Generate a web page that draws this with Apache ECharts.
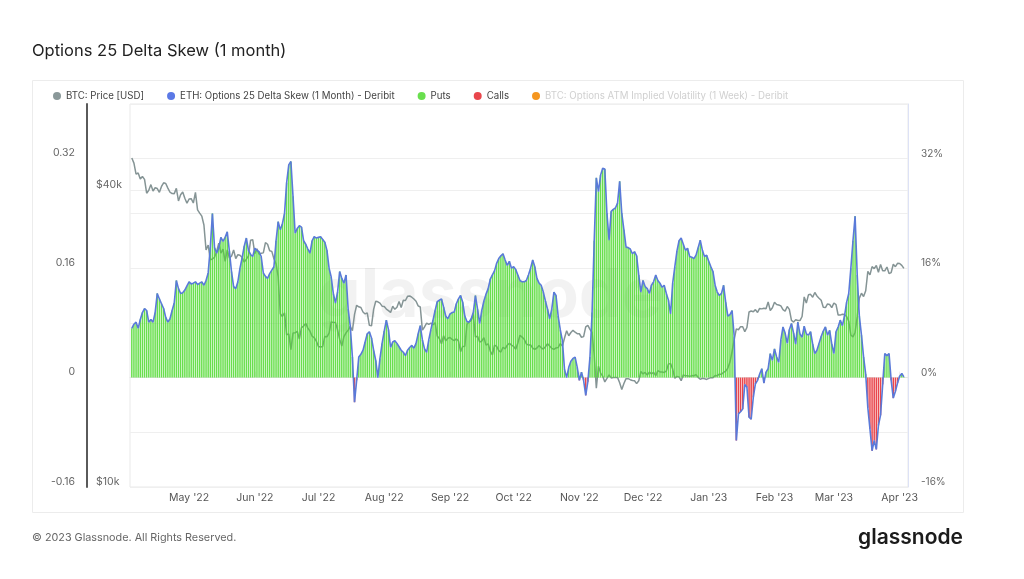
<!DOCTYPE html>
<html><head><meta charset="utf-8">
<script src="https://cdn.jsdelivr.net/npm/echarts@6/dist/echarts.min.js"></script>
<style>html,body{margin:0;padding:0;background:#fff;}#chart{width:1024px;height:579px;}</style>
</head><body><div id="chart"></div>
<script>
// ---- data ----
const startDate = '2022-04-04'; // first daily observation
const skew = [
0.072,0.078,0.081,0.072,0.085,0.095,0.101,0.098,0.081,0.085,
0.081,0.095,0.123,0.115,0.108,0.101,0.088,0.081,0.086,0.098,
0.109,0.142,0.130,0.123,0.124,0.128,0.134,0.140,0.137,0.138,
0.140,0.136,0.138,0.140,0.135,0.142,0.153,0.190,0.240,0.190,
0.182,0.190,0.205,0.199,0.205,0.213,0.185,0.155,0.133,0.130,
0.140,0.160,0.175,0.192,0.204,0.186,0.180,0.177,0.189,0.186,
0.184,0.177,0.153,0.148,0.145,0.152,0.157,0.162,0.200,0.228,
0.216,0.225,0.240,0.285,0.311,0.316,0.265,0.211,0.218,0.222,
0.220,0.200,0.195,0.188,0.182,0.200,0.206,0.204,0.205,0.206,
0.202,0.198,0.186,0.160,0.147,0.123,0.109,0.125,0.155,0.145,
0.138,0.150,0.100,0.075,0.030,-0.036,-0.004,0.030,0.034,0.040,
0.052,0.064,0.067,0.058,0.040,0.025,0.000,0.028,0.050,0.068,
0.084,0.070,0.044,0.052,0.054,0.050,0.045,0.040,0.037,0.032,
0.040,0.044,0.047,0.043,0.050,0.064,0.076,0.055,0.042,0.037,
0.055,0.070,0.084,0.098,0.111,0.113,0.115,0.103,0.090,0.086,
0.093,0.095,0.096,0.108,0.115,0.120,0.110,0.090,0.082,0.081,
0.086,0.095,0.120,0.100,0.079,0.098,0.112,0.122,0.130,0.144,
0.150,0.156,0.167,0.174,0.178,0.181,0.172,0.164,0.170,0.160,
0.162,0.158,0.150,0.142,0.140,0.140,0.142,0.150,0.160,0.172,
0.162,0.145,0.138,0.135,0.125,0.112,0.100,0.086,0.100,0.125,
0.120,0.090,0.070,0.054,0.012,0.000,0.015,0.024,0.028,0.030,
0.015,-0.004,0.008,-0.004,-0.026,-0.006,0.030,0.095,0.200,0.292,
0.272,0.296,0.306,0.305,0.240,0.201,0.243,0.246,0.248,0.255,
0.287,0.240,0.216,0.191,0.190,0.188,0.181,0.184,0.178,0.150,
0.125,0.142,0.133,0.130,0.123,0.135,0.140,0.150,0.142,0.138,
0.132,0.135,0.123,0.113,0.093,0.138,0.162,0.185,0.200,0.204,
0.195,0.186,0.189,0.177,0.176,0.174,0.179,0.190,0.201,0.186,
0.177,0.179,0.170,0.162,0.155,0.135,0.125,0.120,0.123,0.135,
0.110,0.090,0.092,0.098,0.060,-0.092,-0.053,-0.050,-0.046,-0.010,
-0.014,-0.058,-0.061,-0.029,-0.009,-0.004,0.005,0.013,-0.008,0.008,
0.013,0.035,0.025,0.042,0.030,0.022,0.055,0.074,0.065,0.050,
0.070,0.079,0.065,0.049,0.081,0.064,0.059,0.075,0.064,0.062,
0.067,0.049,0.035,0.040,0.050,0.060,0.068,0.074,0.062,0.069,
0.049,0.035,0.067,0.074,0.084,0.076,0.090,0.110,0.123,0.160,
0.200,0.236,0.150,0.090,0.062,0.030,0.005,-0.044,-0.075,-0.107,
-0.092,-0.105,-0.070,-0.055,-0.010,0.035,0.032,0.035,-0.004,-0.030,
-0.020,-0.008,0.002,0.006,0.001
];
const btcPrice = [
46600,45500,43200,43450,42250,42750,42160,39530,40070,41150,39940,40550,40400,39700,40800,41500,41370,40480,39710,39470,39450,40430,38120,39240,39740,38600,37710,
38470,38530,37750,39690,36550,36010,35500,34060,30300,31020,28940,29050,29290,30100,31300,29860,30420,28720,30310,29200,29430,30320,29100,29650,29560,29270,28630,29030,29470,31730,31800,
29800,30470,29700,29860,29900,31370,31130,30200,30110,29080,28420,26760,22490,22210,22580,20380,20470,19020,20550,20570,20720,19990,21080,21230,21500,21030,20730,20250,20100,19780,
19300,19250,19300,20230,20190,20550,21640,21600,21600,20860,19970,19330,20210,20570,20830,21190,20780,22430,23400,23230,23160,22680,22470,22580,21310,21250,22950,23850,23780,23640,23300,
23270,22990,22820,22630,23290,22960,23180,23810,23160,23950,23930,24400,24440,24300,24100,23850,23340,23210,20830,21140,21520,21400,21530,21370,21570,20260,20040,19550,20290,19810,20050,
20130,19950,19830,20000,19800,18840,19290,19320,21380,21650,21780,22400,20180,20240,19700,19800,20110,19420,19540,18880,18550,19410,19300,18930,18800,19230,19080,19410,19590,19420,
19310,19040,19620,20340,20160,19960,19530,19420,19450,19140,19050,19160,19380,19180,19070,19270,19550,19330,19130,19040,19170,19200,19570,19330,20080,20770,20290,20600,20810,20630,20490,
20480,20150,20210,21150,21300,20900,20600,18540,15880,17590,17040,16800,16350,16620,16900,16660,16690,16700,16700,16280,15780,16230,16600,16600,16520,16460,16440,16220,16440,17170,
16970,17090,16890,17110,16970,17090,16840,17230,17130,17130,17090,17200,17780,17810,17360,16630,16780,16740,16440,16900,16820,16830,16780,16840,16830,16920,16700,16550,16630,16600,16540,
16620,16680,16680,16850,16830,16950,16950,17090,17200,17440,17940,18850,19930,20950,20870,21170,21160,20690,21090,22680,22780,22710,22930,22630,23060,23010,23080,23030,23770,22840,23130,
23730,23490,23430,23330,22930,22760,23260,22960,21800,21630,21860,21790,21780,22200,24330,23640,24570,24630,24300,24840,24440,24190,23950,23190,23150,23550,23490,23150,
23650,23470,22360,22350,22430,22410,22200,21720,20360,20190,20630,22160,24200,24750,24380,25050,27420,26970,28040,27770,28180,27310,28330,27490,27490,27990,27140,27270,28350,28030,28480,
28450,28200,27800
];
const ivValues = []; // series hidden in the reference
const skewTicks = [-0.16, 0, 0.16, 0.32];
const priceTicks = [10000, 40000];
const monthNames = ['Jan','Feb','Mar','Apr','May','Jun','Jul','Aug','Sep','Oct','Nov','Dec'];

// ---- build ----
const DAY = 86400000;
const t0 = Date.parse(startDate + 'T00:00:00Z');
const dates = skew.map((_, i) => t0 + i * DAY);
const skewData = skew.map((v, i) => [dates[i], v]);
const putsData = skew.map((v, i) => [dates[i], v > 0 ? v : null]);
const callsData = skew.map((v, i) => [dates[i], v < 0 ? v : null]);
const priceData = btcPrice.map((v, i) => [dates[i], v]);
const isTick = v => skewTicks.some(t => Math.abs(t - v) < 1e-6);

const FONT = 'Inter, "Noto Sans", sans-serif';
const chart = echarts.init(document.getElementById('chart'), null, {renderer: 'canvas'});
chart.setOption({
  animation: false,
  backgroundColor: '#fff',
  textStyle: {fontFamily: FONT},
  title: {
    text: 'Options 25 Delta Skew (1 month)', left: 27, top: 38,
    textStyle: {fontSize: 16.5, fontWeight: 'normal', color: '#222', fontFamily: FONT}
  },
  legend: {
    left: 48, top: 86, icon: 'circle', itemWidth: 8, itemHeight: 8, itemGap: 23,
    textStyle: {fontSize: 9.7, color: '#444', fontFamily: FONT},
    data: [
      'BTC: Price [USD]',
      'ETH: Options 25 Delta Skew (1 Month) - Deribit',
      'Puts', 'Calls',
      {name: 'BTC: Options ATM Implied Volatility (1 Week) - Deribit', textStyle: {color: '#d0d0d0'}}
    ]
  },
  grid: {left: 130, right: 116, top: 104, bottom: 92, show: true, borderColor: '#e9e9e9', borderWidth: 1, backgroundColor: 'transparent'},
  xAxis: {
    type: 'time',
    min: Date.UTC(2022, 3, 3, 12), max: Date.UTC(2023, 3, 4, 14),
    splitNumber: 12, maxInterval: 31 * DAY,
    axisLine: {lineStyle: {color: '#e6e6e6'}},
    axisTick: {show: true, inside: true, length: 6, lineStyle: {color: '#eeeeee'}},
    splitLine: {show: false},
    axisLabel: {
      margin: 5, color: '#555', fontSize: 10.5, fontFamily: FONT, hideOverlap: false,
      formatter: v => { const d = new Date(v); return monthNames[d.getUTCMonth()] + " '" + String(d.getUTCFullYear()).slice(2); }
    }
  },
  yAxis: [
    {
      type: 'value', position: 'left', min: -0.16, max: 0.4, interval: 0.08,
      axisLine: {show: false}, axisTick: {show: false},
      splitLine: {show: true, lineStyle: {color: '#efefef'}},
      axisLabel: {margin: 55, color: '#666', fontSize: 10.5, fontFamily: FONT, verticalAlign: 'bottom',
        formatter: v => isTick(v) ? String(Math.round(v * 100) / 100) : ''}
    },
    {
      type: 'log', logBase: 10, position: 'left', offset: 43, min: 10000, max: 60000,
      axisLine: {show: true, lineStyle: {color: '#5a5a5a', width: 2}},
      axisTick: {show: false, customValues: priceTicks},
      splitLine: {show: true, lineStyle: {color: '#efefef'}},
      axisLabel: {inside: true, margin: 9, customValues: priceTicks, color: '#666', fontSize: 10.5, fontFamily: FONT, verticalAlign: 'bottom',
        formatter: v => '$' + Math.round(v / 1000) + 'k'}
    },
    {
      type: 'value', position: 'right', min: -0.16, max: 0.4, interval: 0.08,
      axisLine: {show: true, lineStyle: {color: '#dde2f6'}}, axisTick: {show: false},
      splitLine: {show: false},
      axisLabel: {margin: 13, color: '#666', fontSize: 10, fontFamily: FONT, verticalAlign: 'bottom',
        formatter: v => isTick(v) ? Math.round(v * 100) + '%' : ''}
    }
  ],
  series: [
    {
      name: 'BTC: Price [USD]', type: 'line', yAxisIndex: 1, data: priceData, showSymbol: false, symbol: 'none',
      color: '#8a9899', lineStyle: {width: 1.5, color: '#859495'}, z: 2
    },
    {
      name: 'Puts', type: 'bar', yAxisIndex: 0, data: putsData, barWidth: 1.5, barGap: '-100%',
      color: '#2bd125', itemStyle: {color: '#4fd92f', opacity: 0.85}, z: 3
    },
    {
      name: 'Calls', type: 'bar', yAxisIndex: 0, data: callsData, barWidth: 1.5, barGap: '-100%',
      color: '#f01010', itemStyle: {color: '#e5262d', opacity: 0.85}, z: 3
    },
    {
      name: 'ETH: Options 25 Delta Skew (1 Month) - Deribit', type: 'line', yAxisIndex: 0, data: skewData,
      showSymbol: false, symbol: 'none', color: '#5b79e6', lineStyle: {width: 1.6, color: '#5a7ad9'}, z: 4
    },
    {
      name: 'BTC: Options ATM Implied Volatility (1 Week) - Deribit', type: 'line', yAxisIndex: 2, data: ivValues,
      showSymbol: false, color: '#f5961f'
    }
  ],
  graphic: [
    {type: 'rect', silent: true, z: -10, shape: {x: 32.5, y: 80.5, width: 931, height: 432},
      style: {fill: 'none', stroke: '#ececec', lineWidth: 1}},
    {type: 'text', silent: true, z: 1,
      style: {text: 'glassnode', x: 490, y: 297, align: 'center', verticalAlign: 'middle', font: 'bold 68px Inter, sans-serif', fill: 'rgba(0,0,0,0.05)'}},
    {type: 'text', silent: true, style: {text: '© 2023 Glassnode. All Rights Reserved.', x: 32, y: 538, verticalAlign: 'middle', font: '10.8px Inter, sans-serif', fill: '#666'}},
    {type: 'text', silent: true, style: {text: 'glassnode', x: 963, y: 538, align: 'right', verticalAlign: 'middle', font: '600 21px Inter, sans-serif', fill: '#1b1b1b'}}
  ]
});
</script></body></html>
